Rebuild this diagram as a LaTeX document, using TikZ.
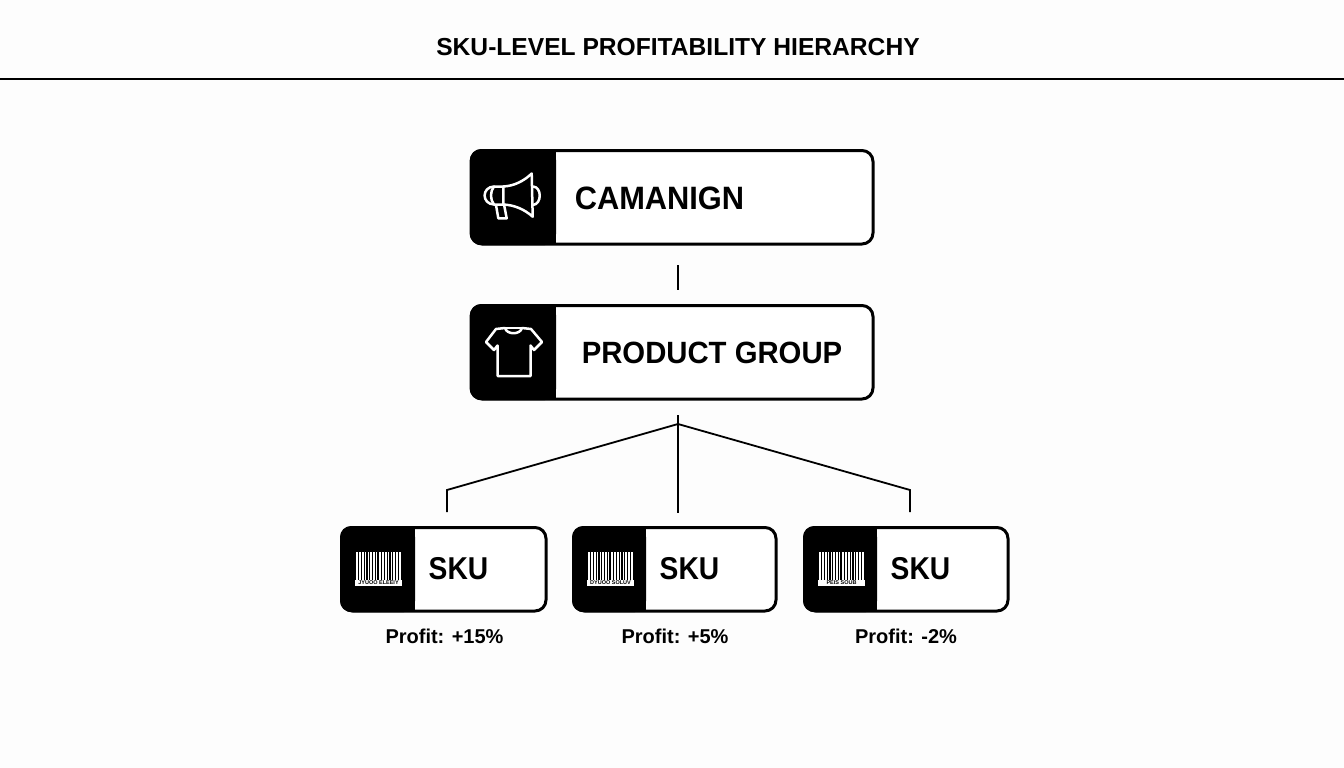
\documentclass[tikz,border=0pt]{standalone}
\usepackage{fontspec}
\setmainfont{Liberation Sans}
\definecolor{ink}{HTML}{000000}
\definecolor{paper}{HTML}{FDFDFD}
\newcommand{\barcode}[3]{% x, y, caption
  \fill[white] (#1,#2) rectangle ++(47,34);
  \foreach \p/\w in {0/1.4,3/.9,5.6/1.3,8.6/1,11/1.6,14.4/.9,17/1.3,20/.9,22.4/1.7,26/1,28.6/1.3,31.6/.9,34/1.6,37.4/1,40/1.3,43/.9,45.6/1.4}{
    \fill[ink] (#1+\p,#2) rectangle ++(\w,27.5);
  }
  \node[barcap] at (#1+23.5,#2+30.8) {#3};
}
\tikzset{
  x=1pt,y=-1pt,
  card/.style={draw=ink,line width=3pt,fill=white,rounded corners=11pt},
  wire/.style={draw=ink,line width=1.8pt},
  icon/.style={draw=white,line width=2.5pt,line join=round,line cap=round},
  skutext/.style={font=\fontsize{28.2}{34}\selectfont\bfseries,text=ink,inner sep=0pt},
  proftext/.style={font=\fontsize{20}{24}\selectfont\bfseries,text=ink,inner sep=0pt},
  barcap/.style={font=\fontsize{5.5}{6}\selectfont\bfseries,text=ink,inner sep=0pt},
}
\begin{document}
\begin{tikzpicture}
\useasboundingbox (0,0) rectangle (1344,768);
\fill[paper] (0,0) rectangle (1344,768);
\node[font=\fontsize{24.6}{28}\selectfont\bfseries,text=ink,inner sep=0pt] (title) at (678,47) {SKU-LEVEL PROFITABILITY HIERARCHY};
\coordinate (ruleL) at (0,79);
\coordinate (ruleR) at (1344,79);
\draw[ink,line width=1.6pt] (ruleL) -- (ruleR);

% campaign
\draw[card] (471,150.5) rectangle (873,244);
\fill[ink,rounded corners=11pt] (470,149) -- (556,149) -- (556,245) -- (470,245) -- cycle;
\fill[ink] (530,149) rectangle (556,245);
\node[font=\fontsize{30.8}{36}\selectfont\bfseries,text=ink,inner sep=0pt] (camp) at (659.5,198) {\scalebox{1}[1.05]{CAMANIGN}};
% product group
\draw[card] (471,305.5) rectangle (873,399);
\fill[ink,rounded corners=11pt] (470,304) -- (556,304) -- (556,400) -- (470,400) -- cycle;
\fill[ink] (530,304) rectangle (556,400);
\node[font=\fontsize{29.3}{36}\selectfont\bfseries,text=ink,inner sep=0pt] (prod) at (712,353) {\scalebox{1}[1.05]{PRODUCT GROUP}};

% megaphone
\draw[icon] (531.7,173.5) .. controls (524,181) and (514,186) .. (503.3,186.5) -- (503.3,204.5) .. controls (514,205) and (524,209) .. (532.7,216.7) -- cycle;
\draw[icon] (503.3,186.5) -- (494,186.5) .. controls (481.5,187) and (481.5,204) .. (494,204.5) -- (503.3,204.5);
\draw[icon] (494,186.5) .. controls (490,191) and (490,200) .. (494,204.5);
\draw[icon] (533,186.5) .. controls (542,187) and (542,204) .. (533,205);
\draw[icon] (496,205) -- (498.3,218.3) -- (506.7,218.3) -- (504.3,206);

% t-shirt
\draw[icon] (505,328) .. controls (507,335) and (520,335) .. (522,328) -- (531,329) -- (542,342) -- (534,350) -- (530.5,345.5) -- (530.5,376) -- (497.5,376) -- (497.5,345.5) -- (494,350) -- (486,342) -- (496,329) -- cycle;
\draw[white,line width=1.4pt] (505,328) -- (522,328);

% SKU cards
\foreach \l/\m/\r/\cap/\nm/\lab/\tx/\px in {340/415/547/JYUOO ELEEIY/a/+15\%/458.5/444.5,572/646/777/DYUOO SOLUV/b/+5\%/689.5/675,803/877/1009/PEIS SOUB/c/-2\%/920.5/906}{
  \draw[card] (\l+1.5,527.5) rectangle (\r-1,611);
  \fill[ink,rounded corners=11pt] (\l,526) -- (\m,526) -- (\m,612) -- (\l,612) -- cycle;
  \fill[ink] (\m-20,526) rectangle (\m,612);
  \barcode{\l+15}{552}{\cap}
  \node[skutext] (sku\nm) at (\tx,569) {\scalebox{1}[1.12]{SKU}};
  \node[proftext] (prof\nm) at (\px,636) {Profit: \lab};
}

% connectors
\coordinate (c1) at (678,265);
\coordinate (c2) at (678,290);
\draw[wire] (c1) -- (c2);
\coordinate (top) at (678,415);
\coordinate (hub) at (678,424);
\coordinate (mid) at (678,513);
\coordinate (lk) at (447,490);
\coordinate (le) at (447,512);
\coordinate (rk) at (910,490);
\coordinate (re) at (910,512);
\draw[wire] (top) -- (mid);
\draw[wire,line join=miter] (le) -- (lk) -- (hub) -- (rk) -- (re);
\end{tikzpicture}
\end{document}
